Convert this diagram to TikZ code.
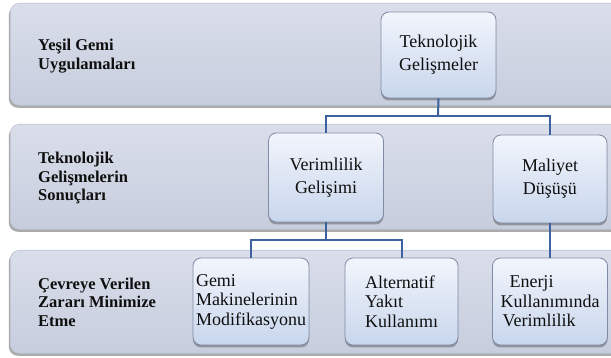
\documentclass[tikz,border=0pt]{standalone}
\usepackage{fontspec}
\setmainfont{Liberation Serif}
\newfontfamily\lserif{Liberation Serif}
\usetikzlibrary{shadows}
\definecolor{bandtop}{RGB}{218,222,234}
\definecolor{bandbot}{RGB}{198,205,221}
\definecolor{bandline}{RGB}{186,192,208}
\definecolor{boxtop}{RGB}{242,245,252}
\definecolor{boxbot}{RGB}{200,214,236}
\definecolor{boxline}{RGB}{128,140,165}
\definecolor{connblue}{RGB}{62,98,160}
\definecolor{txt}{RGB}{15,15,15}
\tikzset{
  band/.style={rounded corners=9pt, draw=bandline, line width=0.6pt,
    top color=bandtop, bottom color=bandbot, inner sep=0pt,
    drop shadow={shadow xshift=-1.5pt, shadow yshift=-2.5pt, fill=black!60, opacity=0.55}},
  boxnode/.style={rounded corners=8pt, draw=boxline, line width=0.8pt,
    top color=boxtop, bottom color=boxbot, inner sep=0pt, text=txt,
    drop shadow={shadow xshift=0pt, shadow yshift=-2.5pt, fill=black!60, opacity=0.55}},
  twoline/.style={align=center, font=\lserif\fontsize{18}{23}\selectfont},
  threeline/.style={align=left, font=\lserif\fontsize{18}{19.5}\selectfont},
  rowlabel/.style={anchor=west, align=left, inner sep=0pt, text=txt,
    font=\lserif\bfseries\fontsize{16.5}{18.5}\selectfont},
  conn/.style={draw=connblue, line width=2pt}
}
\begin{document}
\begin{tikzpicture}[x=1pt,y=-1pt]
\useasboundingbox (0,0) rectangle (611,358);
% bands
\node[band, anchor=north west, minimum width=620pt, minimum height=102pt] (b1) at (10,3) {};
\node[band, anchor=north west, minimum width=620pt, minimum height=105pt] (b2) at (10,124) {};
\node[band, anchor=north west, minimum width=620pt, minimum height=103pt] (b3) at (10,250) {};
% row labels
\node[rowlabel] (l1) at (38,56) {Yeşil Gemi\\Uygulamaları};
\node[rowlabel] (l2) at (38,178) {Teknolojik\\Gelişmelerin\\Sonuçları};
\node[rowlabel] (l3) at (38,302) {Çevreye Verilen\\Zararı Minimize\\Etme};
% boxes
\node[boxnode, twoline, minimum width=115pt, minimum height=86pt] (t) at (438.5,55) {Teknolojik\\Gelişmeler};
\node[boxnode, twoline, minimum width=115pt, minimum height=89pt] (v) at (326,177.5) {Verimlilik\\Gelişimi};
\node[boxnode, twoline, minimum width=114pt, minimum height=88pt] (m) at (550,179) {Maliyet\\Düşüşü};
\node[boxnode, threeline, minimum width=116pt, minimum height=87pt] (g) at (251,301.5) {Gemi\\Makinelerinin\\Modifikasyonu};
\node[boxnode, threeline, minimum width=113pt, minimum height=87pt] (a) at (401.5,301.5) {Alternatif\\Yakıt\\Kullanımı};
\node[boxnode, threeline, minimum width=115pt, minimum height=87pt] (e) at (550,301.5) {\hspace*{9pt}Enerji\\Kullanımında\\\hspace*{2pt}Verimlilik};
% connectors
\coordinate (j1) at (438,116);
\coordinate (j2) at (326,240);
\draw[conn] (t.south) -- (j1);
\draw[conn] (v.north) |- (j1) -| (m.north);
\draw[conn] (v.south) -- (j2);
\draw[conn] (g.north) |- (j2) -| (a.north);
\draw[conn] (m.south) -- (e.north);
\end{tikzpicture}
\end{document}
